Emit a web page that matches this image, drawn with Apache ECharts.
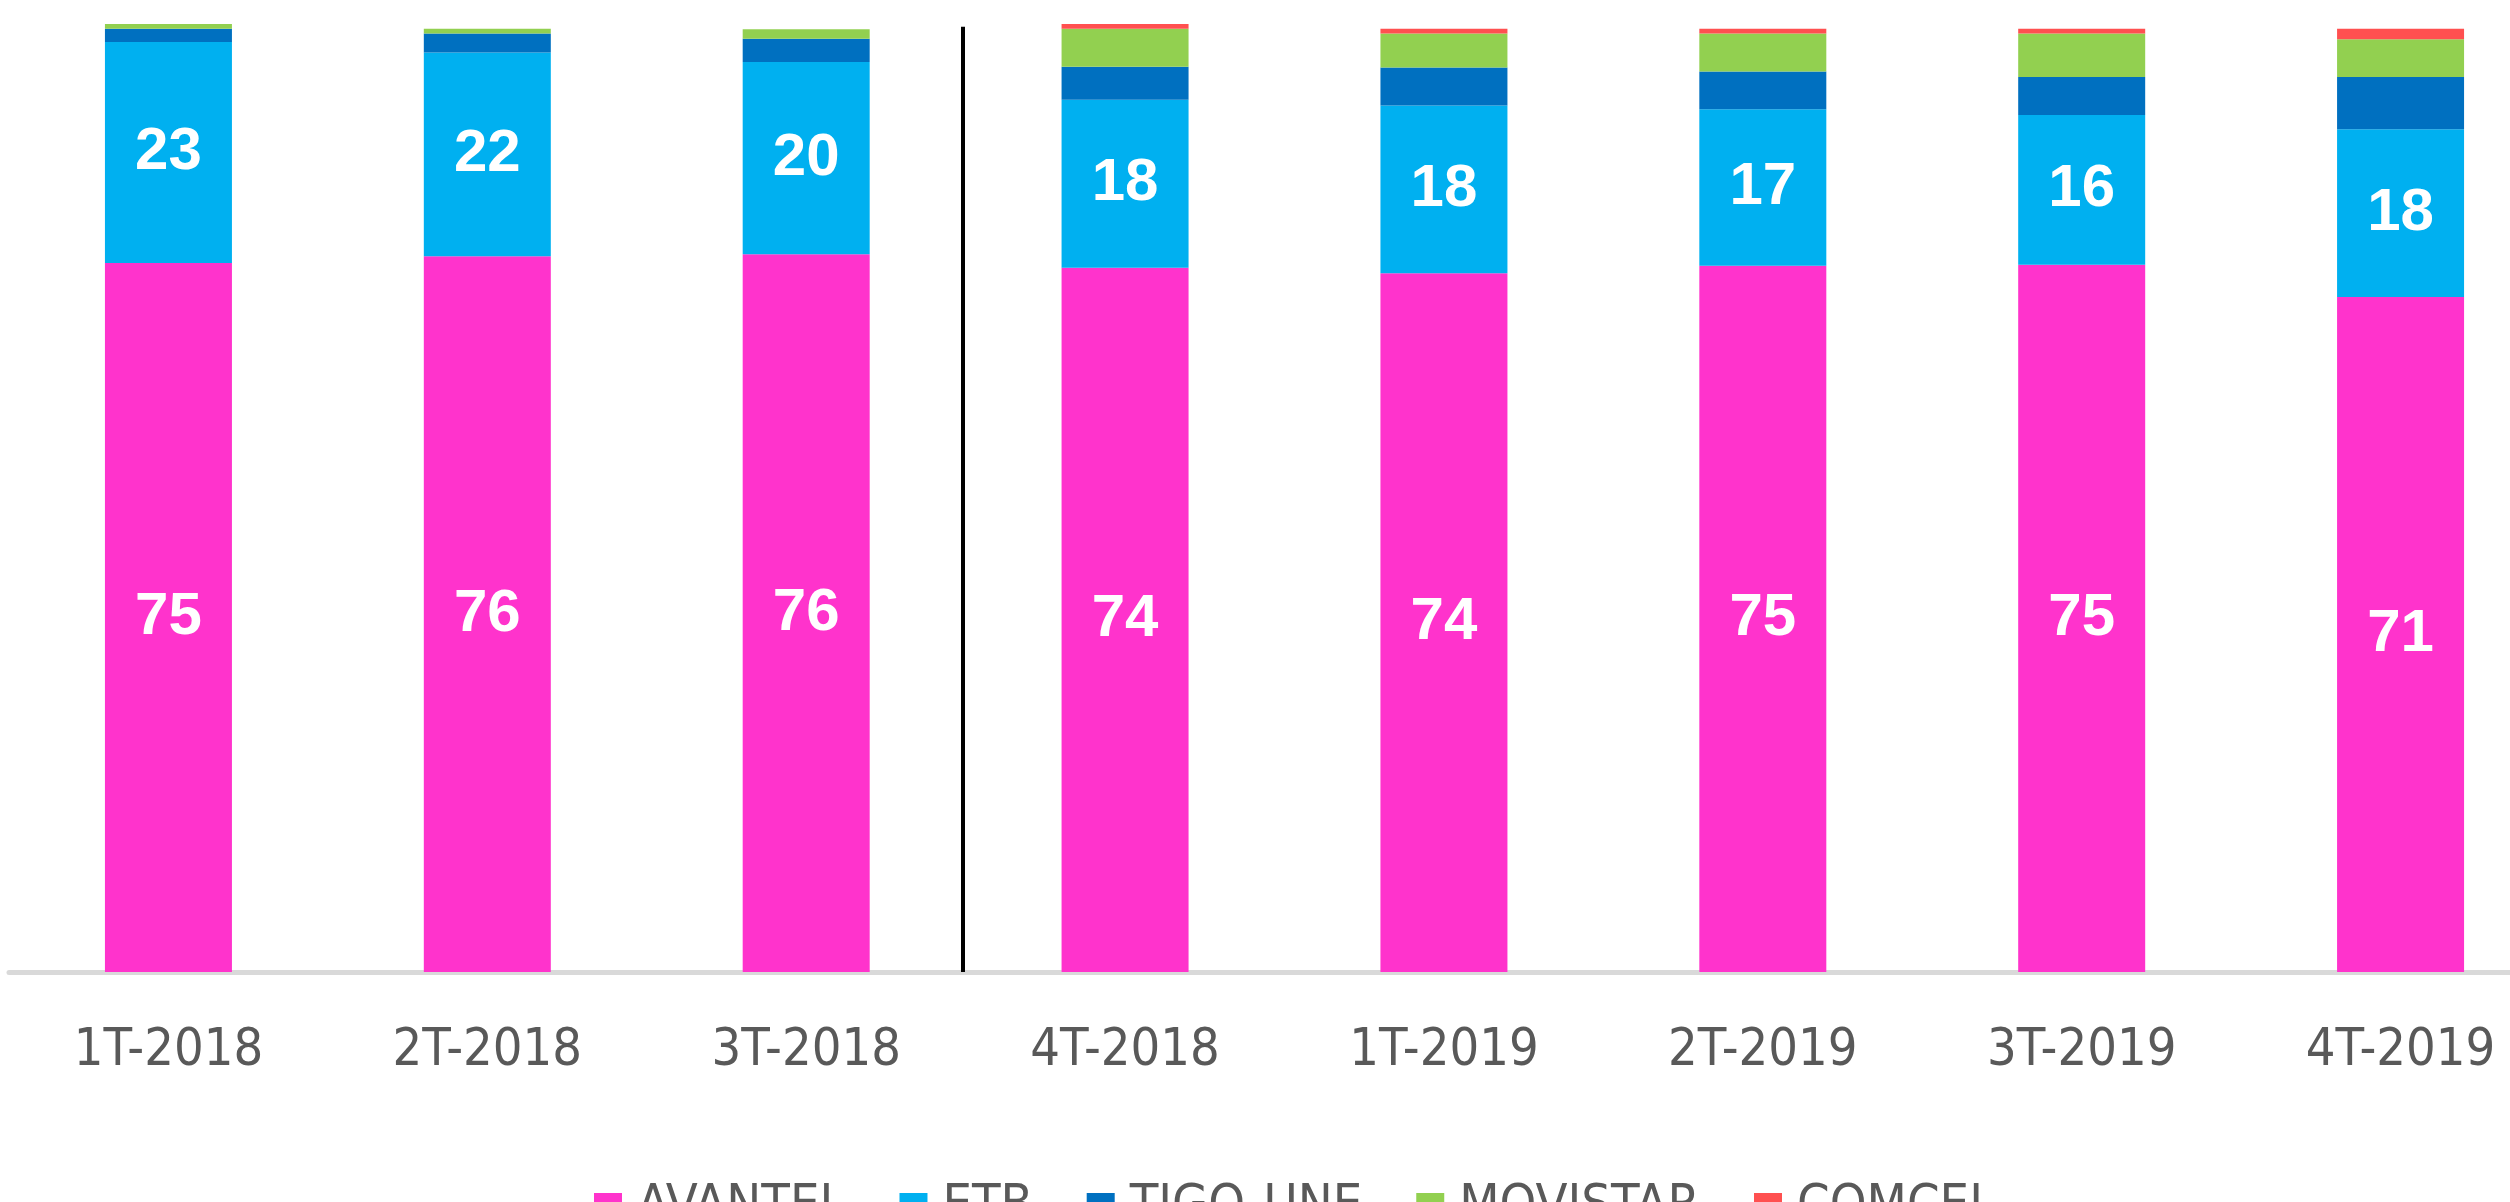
<!DOCTYPE html>
<html>
<head>
<meta charset="utf-8">
<title>Participación por operador</title>
<script src="https://cdn.jsdelivr.net/npm/echarts@6/dist/echarts.min.js"></script>
<style>
  html, body { margin: 0; padding: 0; background: #ffffff; }
</style>
</head>
<body>
<div id="main" style="width: 2510px; height: 1202px;"></div>
<script>
// trimestres
var categories = ["1T-2018", "2T-2018", "3T-2018", "4T-2018", "1T-2019", "2T-2019", "3T-2019", "4T-2019"];

// participación (%) por operador
var avantel = [74.8, 75.5, 75.7, 74.3, 73.7, 74.5, 74.6, 71.2];
var etb = [23.3, 21.5, 20.3, 17.7, 17.7, 16.5, 15.8, 17.7];
var tigoUne = [1.4, 2.0, 2.45, 3.5, 4.0, 4.0, 4.0, 5.5];
var movistar = [0.5, 0.5, 1.0, 4.0, 3.6, 4.0, 4.6, 4.0];
var comcel = [0, 0, 0, 0.5, 0.5, 0.5, 0.5, 1.1];

var seriesNames = ["AVANTEL", "ETB", "TIGO-UNE", "MOVISTAR", "COMCEL"];

// separador entre 3T-2018 y 4T-2018
var dividerAt = 2.49;

var fontText = "'Liberation Sans Narrow', 'DejaVu Sans Condensed', 'Liberation Sans', sans-serif";
var fontBold = "'Liberation Sans', 'DejaVu Sans', sans-serif";

var myChart = echarts.init(document.getElementById("main"));

function barSeries(name, data, color, showLabel) {
  return {
    name: name,
    type: "bar",
    stack: "total",
    barWidth: 127,
    data: data,
    itemStyle: { color: color },
    label: {
      show: showLabel,
      position: "inside",
      color: "#ffffff",
      fontFamily: fontBold,
      fontWeight: "bold",
      fontSize: 60,
      formatter: function (p) {
        return Math.round(p.value);
      },
    },
  };
}

var option = {
  animation: false,
  backgroundColor: "#ffffff",
  grid: {
    left: 9,
    top: 24,
    width: 2551,
    height: 948,
    outerBoundsMode: "none",
  },
  legend: {
    data: seriesNames,
    left: 594,
    top: 1181,
    padding: 0,
    icon: "rect",
    itemWidth: 28,
    itemHeight: 28,
    itemGap: 54,
    textStyle: {
      color: "#595959",
      fontFamily: fontText,
      fontSize: 52,
      lineHeight: 40,
      padding: [0, 0, 0, 10],
    },
  },
  xAxis: [
    {
      type: "category",
      data: categories,
      axisLine: { lineStyle: { color: "#D9D9D9", width: 5 } },
      axisTick: { show: false },
      axisLabel: {
        color: "#595959",
        fontFamily: fontText,
        fontSize: 52,
        lineHeight: 58,
        margin: 50,
      },
    },
    {
      type: "value",
      min: -0.5,
      max: 7.5,
      show: false,
    },
  ],
  yAxis: {
    type: "value",
    min: 0,
    max: 100,
    show: false,
    splitLine: { show: false },
  },
  series: [
    barSeries("AVANTEL", avantel, "#FF33CC", true),
    barSeries("ETB", etb, "#00B0F0", true),
    barSeries("TIGO-UNE", tigoUne, "#0070C0", false),
    barSeries("MOVISTAR", movistar, "#92D050", false),
    barSeries("COMCEL", comcel, "#FF5050", false),
    {
      type: "line",
      xAxisIndex: 1,
      data: [],
      markLine: {
        silent: true,
        symbol: ["none", "none"],
        label: { show: false },
        lineStyle: { color: "#000000", width: 4, type: "solid" },
        data: [
          [
            { coord: [dividerAt, 0] },
            { coord: [dividerAt, 99.7] },
          ],
        ],
      },
    },
  ],
};
myChart.setOption(option);
</script>
</body>
</html>
